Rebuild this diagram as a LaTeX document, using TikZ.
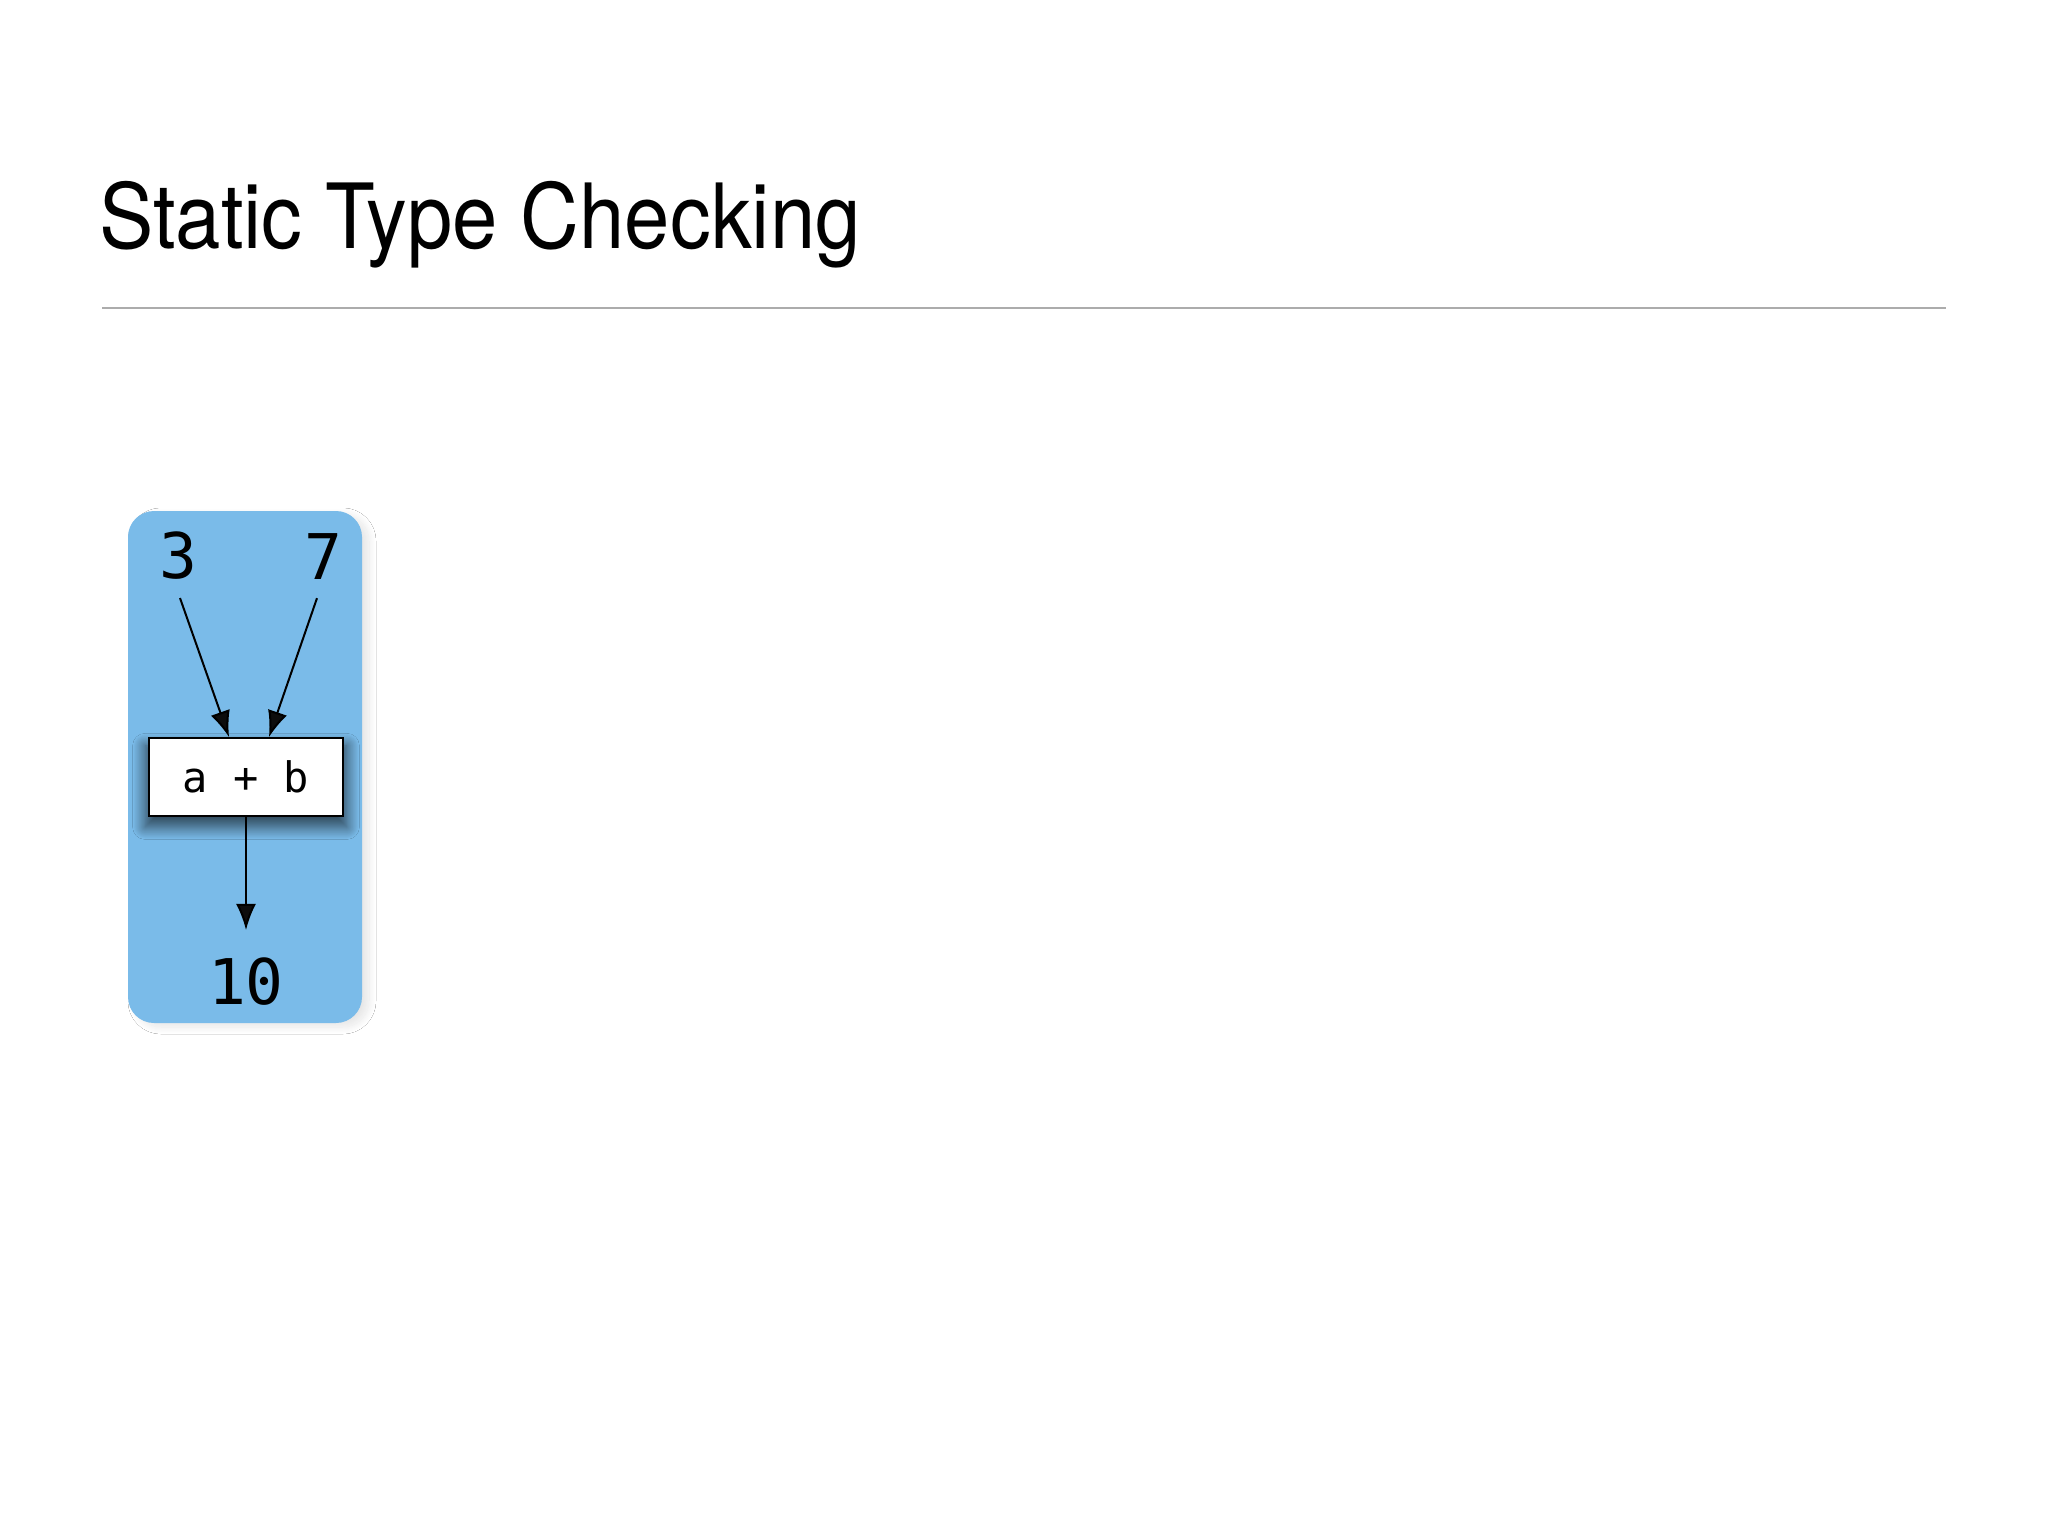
\documentclass[tikz,border=0pt]{standalone}
\usepackage{fontspec}
\setmainfont{TeX Gyre Heros}
\newfontfamily\titlefont{TeX Gyre Heros}[FakeStretch=0.905]
\newfontfamily\codefont{DejaVu Sans Mono}
\usetikzlibrary{arrows.meta,shadows.blur}
\definecolor{panelblue}{RGB}{122,187,233}
\definecolor{rulegray}{RGB}{172,172,172}
\tikzset{%
    panel/.style={%
        fill=panelblue, rounded corners=26pt,
        blur shadow={shadow xshift=7pt, shadow yshift=-4pt,
                shadow opacity=10, shadow blur radius=7pt, shadow blur steps=20}
    },
    value/.style={font=\codefont\fontsize{63}{63}\selectfont, inner xsep=0pt, inner ysep=18pt},
    opbox/.style={%
        draw=black, line width=2pt, fill=white, inner sep=0pt,
        minimum width=194pt, minimum height=78pt,
        font=\codefont\fontsize{42}{42}\selectfont,
        blur shadow={shadow xshift=0pt, shadow yshift=-9pt, shadow scale=1.04,
                shadow opacity=65, shadow blur radius=12pt, shadow blur steps=20}
    },
    flow/.style={line width=2pt, -{Latex[length=26pt,width=20pt]}}
}

\begin{document}
\begin{tikzpicture}[x=1pt,y=-1pt]
\useasboundingbox[fill=white] (0,0) rectangle (2048,1536);
\node[anchor=base west, inner sep=0pt, font=\titlefont\fontsize{90}{90}\selectfont]
    (title) at (99,248) {Static Type Checking};
\draw[rulegray, line width=2pt] (102,308) -- (1946,308);

\path[panel] (128,511) rectangle (362,1023);
\node[value] (n3) at (178,556) {3};
\node[value] (n7) at (323,557) {7};
\node[opbox] (sum) at (246,777) {a + b};
\node[value, inner ysep=0pt] (n10) at (246,982) {10};

\draw[flow] ([xshift=2pt]n3.south) -- ([xshift=-17pt]sum.north);
\draw[flow] ([xshift=-6pt]n7.south) -- ([xshift=23pt]sum.north);
\draw[flow, shorten >=28pt] (sum) -- (n10);
\end{tikzpicture}
\end{document}
